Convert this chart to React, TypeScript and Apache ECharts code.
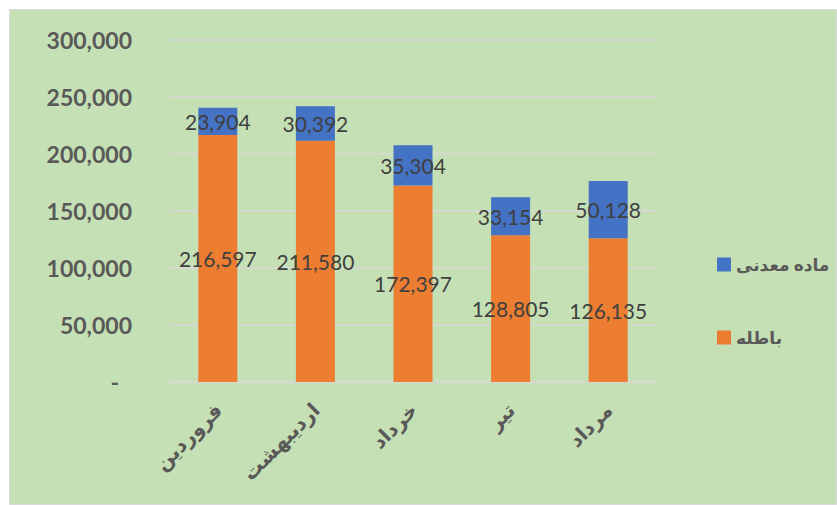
import React, { useEffect, useRef } from "react";
import * as echarts from "echarts";

const categories = ["فروردین", "اردیبهشت", "خرداد", "تیر", "مرداد"];
const wasteValues = [216597, 211580, 172397, 128805, 126135];
const oreValues = [23904, 30392, 35304, 33154, 50128];
const wasteName = "باطله";
const oreName = "ماده معدنی";

const fmt = (v: number) => v.toLocaleString("en-US");
const fmtAxis = (v: number) => (v === 0 ? "{d|-}{s|.}" : v.toLocaleString("en-US"));
const FONT = "Lato, 'DejaVu Sans', sans-serif";

export default function App() {
  const ref = useRef<HTMLDivElement>(null);
  useEffect(() => {
    document.body.style.margin = "0";
    const chart = echarts.init(ref.current!, null, { renderer: "svg" });
    chart.setOption({
      animation: false,
      backgroundColor: "#ffffff",
      graphic: [
        {
          type: "rect",
          shape: { x: 9.5, y: 9.5, width: 827, height: 495 },
          style: { fill: "#C5E0B4", stroke: "#d9d9d9", lineWidth: 1 },
          z: -10,
          silent: true,
        },
      ],
      grid: { left: 169, right: 180, top: 40, bottom: 123, containLabel: false },
      legend: {
        orient: "vertical",
        left: 712,
        top: 251,
        icon: "rect",
        itemWidth: 14,
        itemHeight: 14,
        itemGap: 56,
        data: [oreName, wasteName],
        textStyle: { fontSize: 17, fontWeight: "bold", color: "#595959", fontFamily: FONT },
      },
      xAxis: {
        type: "category",
        data: categories,
        axisLine: { lineStyle: { color: "#d9d9d9", width: 1.5 } },
        axisTick: { show: false },
        axisLabel: {
          rotate: 45,
          margin: 24,
          fontSize: 20,
          fontWeight: "bold",
          color: "#595959",
          fontFamily: FONT,
        },
      },
      yAxis: {
        type: "value",
        min: 0,
        max: 300000,
        interval: 50000,
        axisLine: { show: false },
        axisTick: { show: false },
        splitLine: { lineStyle: { color: "#d9d9d9", width: 1.5 } },
        axisLabel: {
          formatter: (v: number) => fmtAxis(v),
          margin: 37,
          fontSize: 23,
          fontWeight: "bold",
          color: "#595959",
          fontFamily: FONT,
          rich: {
            d: {
              fontSize: 23,
              fontWeight: "bold",
              color: "#595959",
              fontFamily: FONT,
            },
            s: {
              fontSize: 23,
              color: "rgba(0,0,0,0)",
              width: 13,
            },
          },
        },
      },
      series: [
        {
          name: wasteName,
          type: "bar",
          stack: "total",
          barWidth: 39,
          data: wasteValues,
          itemStyle: { color: "#ED7D31" },
          label: {
            show: true,
            position: "inside",
            formatter: (p: any) => fmt(p.value),
            fontSize: 21,
            color: "#404040",
            fontFamily: FONT,
          },
        },
        {
          name: oreName,
          type: "bar",
          stack: "total",
          barWidth: 39,
          data: oreValues,
          itemStyle: { color: "#4472C4" },
          label: {
            show: true,
            position: "inside",
            formatter: (p: any) => fmt(p.value),
            fontSize: 21,
            color: "#404040",
            fontFamily: FONT,
          },
        },
      ],
    });
    return () => chart.dispose();
  }, []);
  return <div ref={ref} style={{ width: 837, height: 505 }} />;
}
